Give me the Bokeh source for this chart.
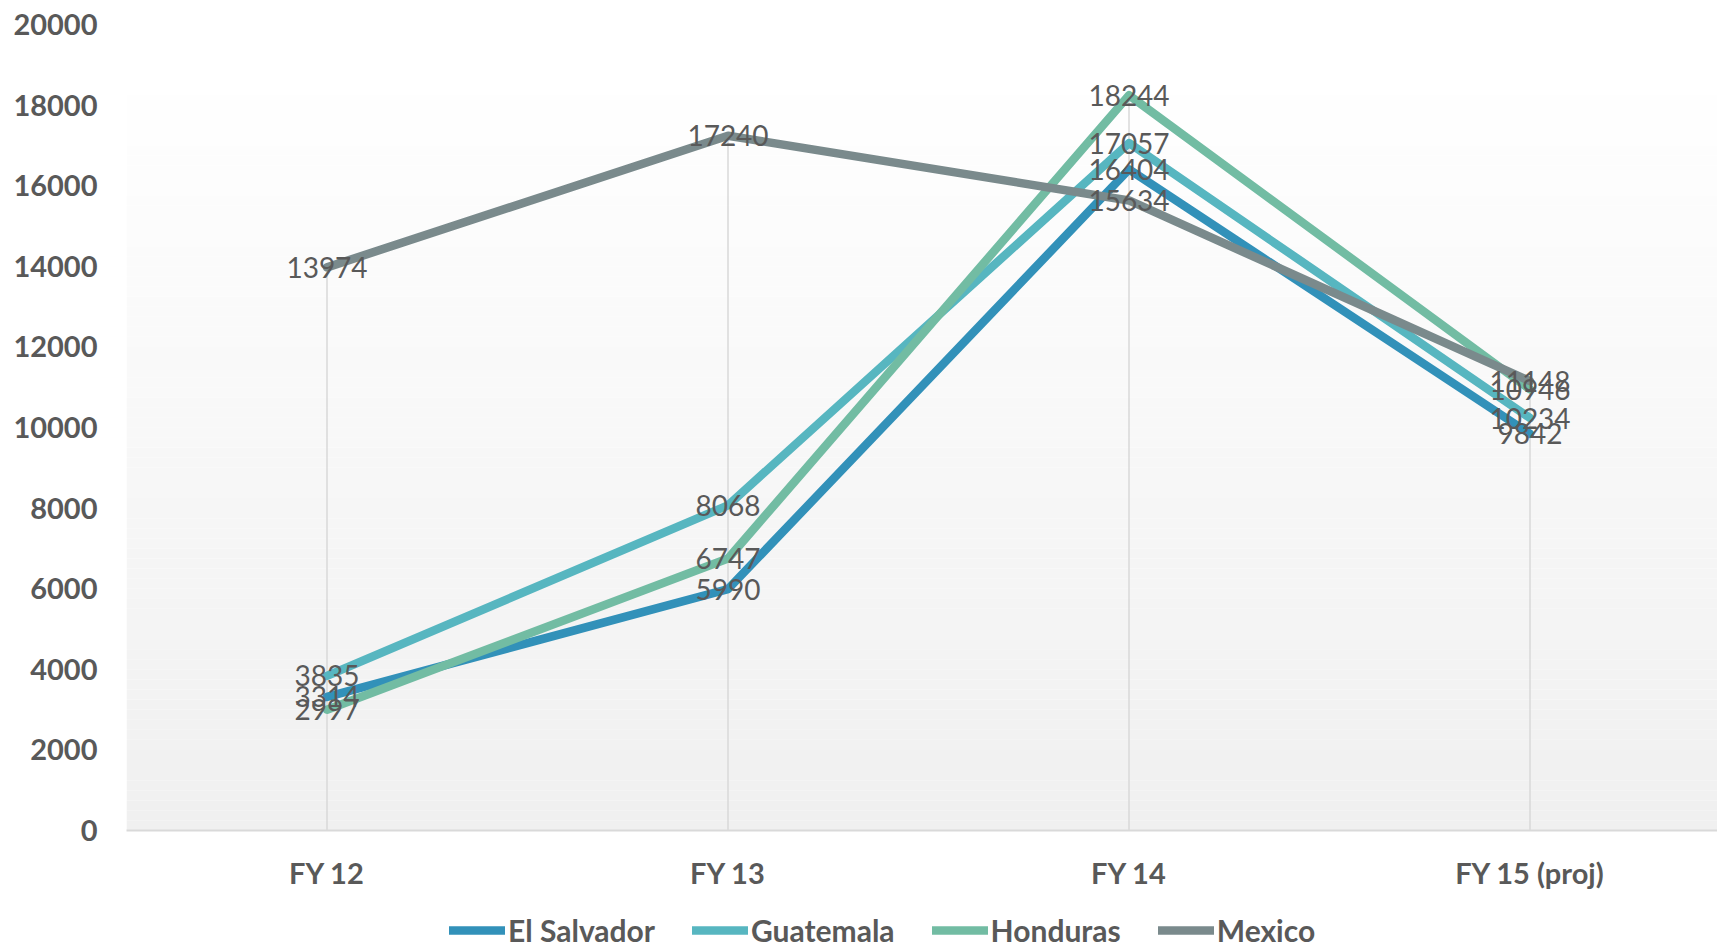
from bokeh.plotting import figure
from bokeh.models import Range1d, FixedTicker, Legend, LegendItem
from bokeh.layouts import column
from bokeh.core.properties import value
from bokeh.embed import file_html
from bokeh.resources import INLINE

categories = ["FY 12", "FY 13", "FY 14", "FY 15 (proj)"]
el_salvador = [3314, 5990, 16404, 9842]
guatemala = [3835, 8068, 17057, 10234]
honduras = [2997, 6747, 18244, 10946]
mexico = [13974, 17240, 15634, 11148]

series_names = ["El Salvador", "Guatemala", "Honduras", "Mexico"]
series_values = [el_salvador, guatemala, honduras, mexico]
colors = ["#3291b9", "#57b6c0", "#72bca3", "#7a8a8c"]
y_ticks = [0, 2000, 4000, 6000, 8000, 10000, 12000, 14000, 16000, 18000, 20000]

W = 1717
H1, H2 = 895, 53
LEFT, TOP = 126, 24
BOTTOM = H1 - 830
frame_w = W - LEFT
span = frame_w / 401.0

p = figure(width=W, height=H1, output_backend="svg", toolbar_location=None,
           x_range=Range1d(-0.5, -0.5 + span), y_range=Range1d(0, 20000),
           min_border_left=LEFT, min_border_right=0, min_border_top=TOP,
           min_border_bottom=BOTTOM, outline_line_color=None,
           background_fill_color="white", border_fill_color="white")

# background gradient of the plot area
n = 80
tops, bots, cols = [], [], []
for i in range(n):
    b = 20000 * i / n
    t = 20000 * (i + 1) / n
    f = (i + 0.5) / n
    c = int(round(0xf0 + (0xff - 0xf0) * min(1.0, f / 0.95)))
    tops.append(t); bots.append(b); cols.append("#%02x%02x%02x" % (c, c, c))
p.quad(left=-0.5, right=-0.5 + span, bottom=bots, top=tops, fill_color=cols, line_color=None)

xs = list(range(len(categories)))

# drop lines from 0 up to the highest value per category
maxv = [max(v[i] for v in series_values) for i in xs]
p.segment(x0=xs, y0=[0] * len(xs), x1=xs, y1=maxv, line_color="#d9d9d9", line_width=1.5)

for name, vals, col in zip(series_names, series_values, colors):
    p.line(xs, vals, line_color=col, line_width=8.5, line_join="round", line_cap="round")

for vals in series_values:
    p.text(x=xs, y=vals, text=[str(v) for v in vals], text_align="center",
           text_baseline="middle", text_color="#595959", text_font=value("Lato"),
           text_font_size="28px")

p.xgrid.visible = False
p.ygrid.visible = False

p.xaxis.ticker = FixedTicker(ticks=xs)
p.xaxis.major_label_overrides = {i: c for i, c in zip(xs, categories)}
p.xaxis.major_tick_line_color = None
p.xaxis.minor_tick_line_color = None
p.xaxis.axis_line_color = "#d9d9d9"
p.xaxis.axis_line_width = 2
p.xaxis.major_label_text_font = "Lato"
p.xaxis.major_label_text_font_style = "bold"
p.xaxis.major_label_text_font_size = "29px"
p.xaxis.major_label_text_color = "#595959"
p.xaxis.major_label_standoff = 18

p.yaxis.ticker = FixedTicker(ticks=y_ticks)
p.yaxis.major_tick_line_color = None
p.yaxis.minor_tick_line_color = None
p.yaxis.axis_line_color = None
p.yaxis.major_label_text_font = "Lato"
p.yaxis.major_label_text_font_style = "bold"
p.yaxis.major_label_text_font_size = "29px"
p.yaxis.major_label_text_color = "#595959"
p.yaxis.major_label_standoff = 23

# legend strip below the chart (its frame is aligned with the chart's frame)
p2 = figure(width=W, height=H2, output_backend="svg", toolbar_location=None,
            x_range=Range1d(0, 1), y_range=Range1d(0, 1), min_border=0,
            outline_line_color=None, background_fill_color="white",
            border_fill_color="white")
p2.xaxis.visible = False
p2.yaxis.visible = False
p2.xgrid.visible = False
p2.ygrid.visible = False
leg_renderers = []
for name, col in zip(series_names, colors):
    # kept outside the visible range: only used for the legend swatches
    leg_renderers.append(p2.line(x=[0, 1], y=[-5, -5], line_color=col, line_width=8.5,
                                 line_cap="round"))

legend = Legend(items=[LegendItem(label=n_, renderers=[r]) for n_, r in zip(series_names, leg_renderers)],
                orientation="horizontal", location=(323, 0),
                label_text_font="Lato", label_text_font_style="bold",
                label_text_font_size="30px", label_text_color="#595959",
                glyph_width=56, glyph_height=20, label_height=28, label_standoff=3,
                spacing=37, padding=0, margin=0,
                border_line_color=None, background_fill_alpha=0)
p2.add_layout(legend, "center")

layout = column(p, p2, spacing=0)
open("out.html", "w").write(file_html(layout, INLINE))
